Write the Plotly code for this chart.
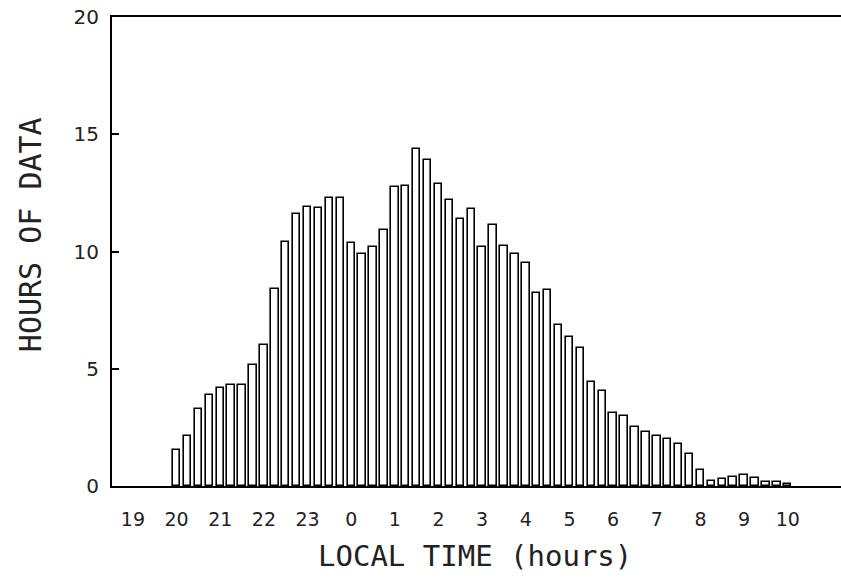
import plotly.graph_objects as go

# Bin centres in hours relative to local midnight (20:00 = -4 ... 10:00 = 10), 15-minute bins
bin_hours = [-4.0, -3.75, -3.5, -3.25, -3.0, -2.75, -2.5, -2.25,
             -2.0, -1.75, -1.5, -1.25, -1.0, -0.75, -0.5, -0.25,
             0.0, 0.25, 0.5, 0.75, 1.0, 1.25, 1.5, 1.75,
             2.0, 2.25, 2.5, 2.75, 3.0, 3.25, 3.5, 3.75,
             4.0, 4.25, 4.5, 4.75, 5.0, 5.25, 5.5, 5.75,
             6.0, 6.25, 6.5, 6.75, 7.0, 7.25, 7.5, 7.75,
             8.0, 8.25, 8.5, 8.75, 9.0, 9.25, 9.5, 9.75, 10.0]

hours_of_data = [1.53, 2.14, 3.29, 3.89, 4.18, 4.30, 4.30, 5.16,
                 6.0, 8.38, 10.4, 11.6, 11.9, 11.85, 12.3, 12.3,
                 10.35, 9.9, 10.2, 10.9, 12.75, 12.8, 14.35, 13.9,
                 12.9, 12.2, 11.4, 11.8, 10.2, 11.15, 10.25, 9.9,
                 9.5, 8.25, 8.35, 6.85, 6.35, 5.9, 4.45, 4.06,
                 3.13, 2.99, 2.52, 2.32, 2.12, 2.0, 1.8, 1.35,
                 0.68, 0.21, 0.31, 0.4, 0.46, 0.34, 0.18, 0.18, 0.07]

x_tick_vals = [-5, -4, -3, -2, -1, 0, 1, 2, 3, 4, 5, 6, 7, 8, 9, 10]
x_tick_text = ["19", "20", "21", "22", "23", "0", "1", "2", "3", "4",
               "5", "6", "7", "8", "9", "10"]
y_tick_vals = [0, 5, 10, 15, 20]

fig = go.Figure()
fig.add_trace(go.Bar(
    x=bin_hours, y=hours_of_data, width=0.17,
    marker=dict(color="white", line=dict(color="black", width=1.6)),
    showlegend=False,
))

xtick_font = dict(family="DejaVu Sans, sans-serif", size=19, color="#222")
ytick_font = dict(family="DejaVu Sans, sans-serif", size=20, color="#222")
xtitle_font = dict(family="DejaVu Sans Mono, monospace", size=29, color="#222")
ytitle_font = dict(family="DejaVu Sans Mono, monospace", size=30, color="#222")

fig.update_layout(
    width=841, height=580,
    margin=dict(l=112, r=0, t=17, b=94),
    paper_bgcolor="white", plot_bgcolor="white",
    bargap=0,
    xaxis=dict(
        range=[-5.48, 11.22], tickvals=x_tick_vals, ticktext=x_tick_text,
        showgrid=False, zeroline=False, showline=True, mirror=True,
        linecolor="black", linewidth=2, ticks="", tickfont=xtick_font,
        ticklabelstandoff=15,
    ),
    yaxis=dict(
        range=[0, 20], tickvals=y_tick_vals, showgrid=False, zeroline=False,
        showline=True, mirror=False, linecolor="black", linewidth=2,
        ticks="inside", ticklen=7, tickwidth=1.5, tickcolor="black",
        tickfont=ytick_font, ticklabelstandoff=7,
    ),
    annotations=[
        dict(text="LOCAL TIME (hours)", xref="paper", yref="paper",
             x=0.498, y=-0.149, showarrow=False, font=xtitle_font,
             xanchor="center", yanchor="middle"),
        dict(text="HOURS OF DATA", xref="paper", yref="paper",
             x=-0.1125, y=0.537, showarrow=False, font=ytitle_font,
             textangle=-90, xanchor="center", yanchor="middle"),
    ],
)

fig.write_html("out.html", config={"displayModeBar": False},
               post_script="document.body.style.margin='0';document.body.style.overflow='hidden';")
